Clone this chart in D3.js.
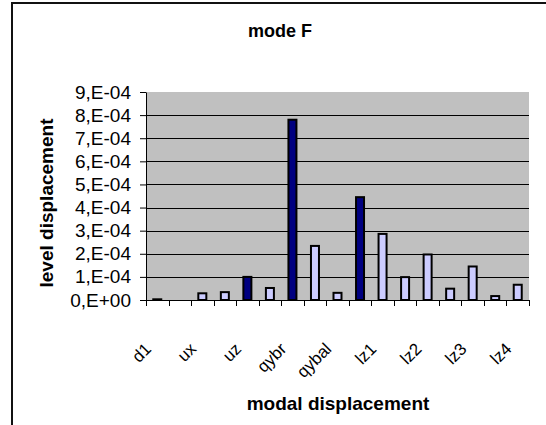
<html>
  <head>
    <meta charset="UTF-8">
    <style>
      body { margin: 0; background: white; }
      text { font-family: 'Liberation Sans', Arial, sans-serif; }
    </style>
  </head>
  <body>
    <script src="https://d3js.org/d3.v7.min.js"></script>
    <svg id="chart" width="546" height="425"></svg>
    <script>
      // 17 categories, Excel only shows every other label
      var tickLabels = ["d1", "", "ux", "", "uz", "", "qybr", "", "qybal", "", "lz1", "", "lz2", "", "lz3", "", "lz4"];
      var values = [0.03e-4, null, 0.29e-4, 0.34e-4, 1.0e-4, 0.52e-4, 7.8e-4, 2.34e-4, 0.31e-4,
                    4.45e-4, 2.86e-4, 0.99e-4, 1.97e-4, 0.49e-4, 1.45e-4, 0.17e-4, 0.66e-4];
      var darkBar = [1, 0, 0, 0, 1, 0, 1, 0, 0, 1, 0, 0, 0, 0, 0, 0, 0];
      var yTicks = [0, 1e-4, 2e-4, 3e-4, 4e-4, 5e-4, 6e-4, 7e-4, 8e-4, 9e-4];

      var svg = d3.select("#chart"),
          plot = {left: 146, right: 529, top: 92, bottom: 300};

      var xb = d3.scaleLinear().domain([0, tickLabels.length]).range([plot.left, plot.right]),
          y = d3.scaleLinear().domain([0, 9e-4]).range([plot.bottom, plot.top]);
      var barW = 8;

      function fmt(v) {
        if (v === 0) { return "0,E+00"; }
        var p = v.toExponential(0).split("e");
        var e = parseInt(p[1]);
        return p[0] + ",E" + (e < 0 ? "-" : "+") + (Math.abs(e) < 10 ? "0" : "") + Math.abs(e);
      }

      /* outer frame, only left and top edges fall inside the picture */
      svg.append("rect")
        .attr("x", 12).attr("y", 3)
        .attr("width", 560).attr("height", 460)
        .attr("fill", "none").attr("stroke", "#111").attr("stroke-width", 2);

      /* plot area */
      svg.append("rect")
        .attr("x", plot.left).attr("y", plot.top)
        .attr("width", plot.right - plot.left).attr("height", plot.bottom - plot.top)
        .attr("fill", "#c0c0c0");

      svg.selectAll(".grid")
        .data(yTicks.slice(1, 9))
        .enter().append("line")
        .attr("x1", plot.left).attr("x2", plot.right)
        .attr("y1", function(d) { return Math.round(y(d)) + 0.5; })
        .attr("y2", function(d) { return Math.round(y(d)) + 0.5; })
        .attr("stroke", "#000").attr("stroke-width", 1);

      /* y axis */
      var ya = svg.append("g")
        .attr("transform", "translate(" + plot.left + ",0)")
        .call(d3.axisLeft(y).tickValues(yTicks).tickFormat(fmt).tickSize(6).tickSizeOuter(0).tickPadding(9));
      ya.selectAll("path, line").attr("stroke", "#000");
      ya.selectAll("text")
        .attr("fill", "#000")
        .style("font-size", "19px")
        .style("font-family", "'Liberation Sans', Arial, sans-serif");

      /* bars */
      svg.selectAll(".bar")
        .data(values.map(function(v, i) { return {v: v, i: i}; }).filter(function(d) { return d.v != null; }))
        .enter().append("rect")
        .attr("x", function(d) { return xb(d.i + 0.5) - barW / 2; })
        .attr("y", function(d) { return y(d.v); })
        .attr("width", barW)
        .attr("height", function(d) { return y(0) - y(d.v); })
        .attr("fill", function(d) { return darkBar[d.i] ? "#000080" : "#ccccff"; })
        .attr("stroke", "#000").attr("stroke-width", 2);

      /* x axis line and boundary ticks */
      svg.append("line")
        .attr("x1", plot.left).attr("x2", plot.right)
        .attr("y1", plot.bottom + 0.5).attr("y2", plot.bottom + 0.5)
        .attr("stroke", "#000");
      svg.selectAll(".xtick")
        .data(d3.range(tickLabels.length + 1))
        .enter().append("line")
        .attr("x1", function(d) { return Math.round(xb(d)) + 0.5; })
        .attr("x2", function(d) { return Math.round(xb(d)) + 0.5; })
        .attr("y1", plot.bottom).attr("y2", plot.bottom + 6)
        .attr("stroke", "#000");

      svg.selectAll(".xlab")
        .data(tickLabels)
        .enter().append("text")
        .attr("transform", function(d, i) { return "translate(" + (xb(i + 0.5) - 5) + "," + 350 + ") rotate(-45)"; })
        .attr("text-anchor", "end")
        .style("font-size", "17px")
        .text(function(d) { return d; });

      /* titles */
      svg.append("text")
        .attr("x", 280).attr("y", 37)
        .attr("text-anchor", "middle")
        .style("font-size", "18px").style("font-weight", "bold")
        .text("mode F");
      svg.append("text")
        .attr("transform", "translate(53,203) rotate(-90)")
        .attr("text-anchor", "middle")
        .style("font-size", "19px").style("font-weight", "bold")
        .text("level displacement");
      svg.append("text")
        .attr("x", 338).attr("y", 410)
        .attr("text-anchor", "middle")
        .style("font-size", "19px").style("font-weight", "bold")
        .text("modal displacement");
    </script>
  </body>
</html>
